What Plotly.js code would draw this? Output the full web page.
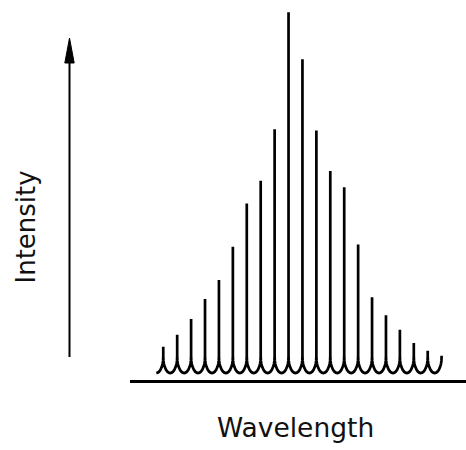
<!DOCTYPE html>
<html>
<head>
<meta charset="utf-8">
<script src="https://cdn.plot.ly/plotly-3.0.1.min.js"></script>
<style>
  html, body { margin: 0; padding: 0; background: #ffffff; }
  #chart { width: 466px; height: 450px; }
</style>
</head>
<body>
<div id="chart"></div>
<script>
// ---- Data (relative intensity, tallest line = 100) ----
const lineIndex = [1, 2, 3, 4, 5, 6, 7, 8, 9, 10, 11, 12, 13, 14, 15, 16, 17, 18, 19, 20];
const intensity = [7.3, 10.6, 15, 20.5, 25.8, 35, 47, 53.3, 67.6, 100, 87, 67.2, 56, 51.5, 35.6, 21, 16, 12, 8.3, 6.2];

// ---- Drawing style of each line profile (rounded trough between lines) ----
const cupOffset = [-0.5, -0.4, -0.3, -0.2, -0.1, -0.05, -0.015, 0];
const cupLift   = [0, 0.09, 0.37, 0.89, 1.78, 2.5, 3.36, 4.8];

// Build the spectrum trace from the data
const xs = [], ys = [];
function leftHalf(c) {
  for (let k = 0; k < cupOffset.length; k++) { xs.push(c + cupOffset[k]); ys.push(cupLift[k]); }
}
function rightHalf(c) {
  for (let k = cupOffset.length - 1; k >= 0; k--) { xs.push(c - cupOffset[k]); ys.push(cupLift[k]); }
}
for (let i = 0; i < lineIndex.length; i++) {
  const c = lineIndex[i];
  leftHalf(c);
  xs.push(c); ys.push(intensity[i]);
  rightHalf(c);
}
// trailing rising arm after the last line
leftHalf(lineIndex[lineIndex.length - 1] + 1);

const trace = {
  x: xs, y: ys,
  type: 'scatter', mode: 'lines',
  line: { color: '#000000', width: 2.7, shape: 'linear', simplify: false },
  hoverinfo: 'skip'
};

// paper-coordinate helpers for the plot area (l=130, w=336, t=0, h=380)
const PL = 130, PW = 336, PH = 380;
const px = v => (v - PL) / PW;
const py = v => (PH - v) / PH;

const layout = {
  width: 466, height: 450,
  margin: { l: PL, r: 0, t: 0, b: 70 },
  paper_bgcolor: '#ffffff', plot_bgcolor: '#ffffff',
  showlegend: false,
  xaxis: {
    range: [-1.39, 22.75],
    showline: true, linecolor: '#000000', linewidth: 2.5,
    showgrid: false, zeroline: false, ticks: '', showticklabels: false,
    fixedrange: true
  },
  yaxis: {
    range: [-1.94, 103.4],
    visible: false, showgrid: false, zeroline: false, fixedrange: true
  },
  shapes: [
    { type: 'line', xref: 'paper', yref: 'paper',
      x0: px(69.5), x1: px(69.5), y0: py(357), y1: py(60),
      line: { color: '#000000', width: 2 } },
    { type: 'path', xref: 'paper', yref: 'paper',
      path: 'M ' + px(64.8) + ',' + py(63) + ' L ' + px(74.2) + ',' + py(63) + ' L ' + px(69.5) + ',' + py(38) + ' Z',
      fillcolor: '#000000', line: { color: '#000000', width: 1 } }
  ],
  annotations: [
    { text: 'Wavelength', xref: 'paper', yref: 'paper',
      x: px(295), y: py(427), xanchor: 'center', yanchor: 'middle',
      showarrow: false,
      font: { family: 'DejaVu Sans, Arial, sans-serif', size: 26.5, color: '#111111' } },
    { text: 'Intensity', xref: 'paper', yref: 'paper',
      x: px(26), y: py(227.5), xanchor: 'center', yanchor: 'middle',
      textangle: -90, showarrow: false,
      font: { family: 'DejaVu Sans, Arial, sans-serif', size: 26, color: '#111111' } }
  ]
};

Plotly.newPlot('chart', [trace], layout, { staticPlot: true, displayModeBar: false });
</script>
</body>
</html>
